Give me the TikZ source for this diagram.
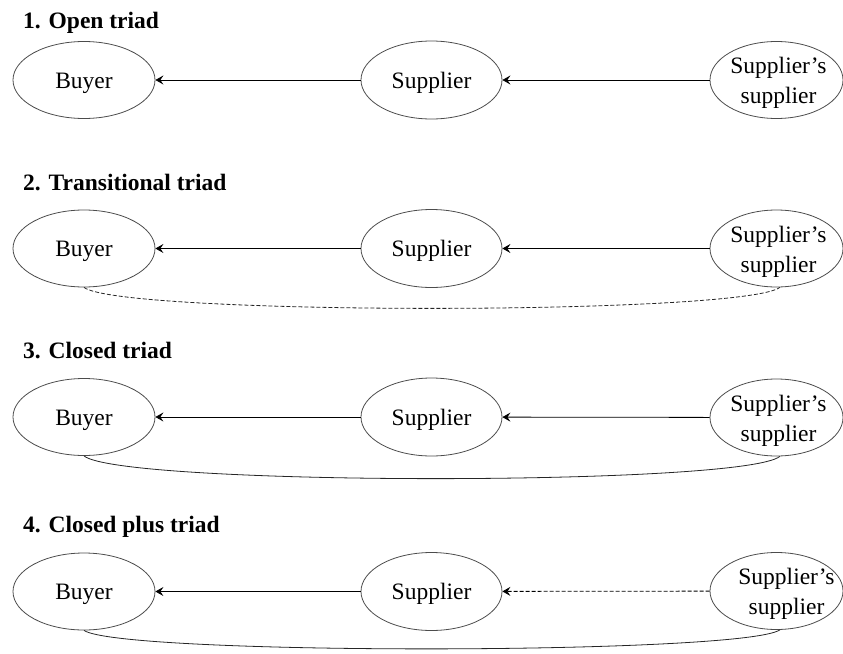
\documentclass[tikz,border=0pt]{standalone}
\usepackage{fontspec}
\setmainfont{LiberationSerif}[Extension=.ttf, UprightFont=*-Regular, BoldFont=*-Bold, ItalicFont=*-Italic, BoldItalicFont=*-BoldItalic]
\usetikzlibrary{shapes.geometric,arrows.meta,calc}
\begin{document}
\begin{tikzpicture}[x=1pt,y=-1pt,
  every node/.style={font=\rmfamily\fontsize{23.5}{30}\selectfont},
  ell/.style={draw=black!70, line width=0.8pt, ellipse, inner sep=0pt, text height=21pt, text depth=5pt},
  bnode/.style={ell, minimum width=142pt, minimum height=77pt},
  snode/.style={ell, minimum width=141pt, minimum height=78pt},
  ssnode/.style={ell, minimum width=133pt, minimum height=77pt},
  sstext/.style={align=center, inner sep=0pt},
  ttl/.style={anchor=base west, inner sep=0pt, font=\rmfamily\fontsize{23.5}{28}\selectfont\bfseries},
  flow/.style={-{Stealth[length=8pt,width=9pt,inset=3pt]}, line width=0.8pt},
  tie/.style={line width=0.8pt, black!85},
  dsh/.style={dash pattern=on 4pt off 2pt}
]
\useasboundingbox (0,0) rectangle (843,653);

% Row 1
\node[ttl] (t1) at (23,28) {1. Open triad};
\node[bnode] (b1) at (84,80) {Buyer};
\node[snode] (s1) at (431.5,80) {Supplier};
\node[ssnode] (ss1) at (776.5,80) {};
\node[sstext] (x1) at ($(ss1)+(2,3)$) {Supplier’s\\supplier};
\draw[flow] (ss1) -- (s1);
\draw[flow] (s1) -- (b1);

% Row 2
\node[ttl] (t2) at (23,190) {2. Transitional triad};
\node[bnode] (b2) at (84,248.5) {Buyer};
\node[snode] (s2) at (431.5,248.5) {Supplier};
\node[ssnode] (ss2) at (776.5,248.5) {};
\node[sstext] (x2) at ($(ss2)+(2,3)$) {Supplier’s\\supplier};
\draw[flow] (ss2) -- (s2);
\draw[flow] (s2) -- (b2);
\draw[tie,dsh] (b2.south) .. controls +(37,28) and +(-37,28) .. (ss2.-85);

% Row 3
\node[ttl] (t3) at (23,358) {3. Closed triad};
\node[bnode] (b3) at (84,417) {Buyer};
\node[snode] (s3) at (431.5,417) {Supplier};
\node[ssnode] (ss3) at (776.5,417.5) {};
\node[sstext] (x3) at ($(ss3)+(2,3)$) {Supplier’s\\supplier};
\draw[flow] (ss3) -- (s3);
\draw[flow] (s3) -- (b3);
\draw[tie] (b3.south) .. controls +(37,30) and +(-37,30) .. (ss3.-85);

% Row 4
\node[ttl] (t4) at (23,532) {4. Closed plus triad};
\node[bnode] (b4) at (84,591.5) {Buyer};
\node[snode] (s4) at (431.5,591.5) {Supplier};
\node[ssnode] (ss4) at (776.5,591) {};
\node[sstext] (x4) at ($(ss4)+(10,3)$) {Supplier’s\\supplier};
\draw[flow,dsh] (ss4) -- (s4);
\draw[flow] (s4) -- (b4);
\draw[tie] (b4.south) .. controls +(37,25) and +(-37,25) .. (ss4.-85);
\end{tikzpicture}
\end{document}
